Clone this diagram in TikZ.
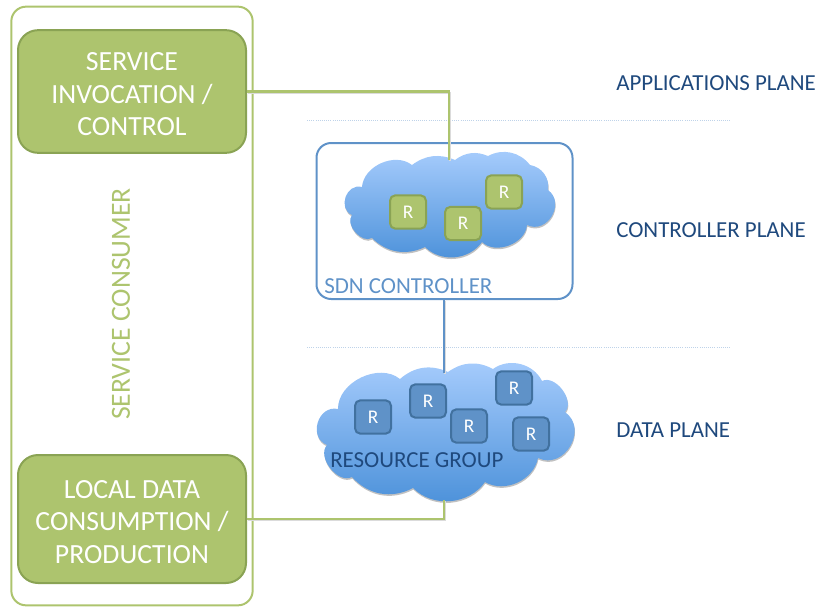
\documentclass[tikz,border=0pt]{standalone}
\usepackage{fontspec}
\setmainfont{Carlito}
\usetikzlibrary{shadows}
\definecolor{leaf}{HTML}{ADC46E}
\definecolor{leafdark}{HTML}{8AA354}
\definecolor{sky}{HTML}{5F92C8}
\definecolor{skydark}{HTML}{41719F}
\definecolor{navy}{HTML}{1F497D}
\definecolor{cloudtop}{HTML}{A8CDFD}
\definecolor{cloudbottom}{HTML}{4A90D9}
\newcommand\lift{\rule{0pt}{18pt}}
\tikzset{
  pane/.style={draw=#1,line width=1.5pt,rounded corners=11pt},
  task/.style={draw=leafdark,fill=leaf,line width=1.5pt,rounded corners=15pt,text=white,
    minimum width=171pt,align=center,font=\fontsize{20.8}{24.4}\selectfont,inner sep=0pt},
  res/.style={draw=#1,line width=1.5pt,rounded corners=4pt,minimum width=27pt,minimum height=25pt,
    inner sep=0pt,text=white,font=\fontsize{14.5}{16}\selectfont},
  planelabel/.style={text=navy,anchor=west,inner sep=0pt,font=\fontsize{17.2}{20}\selectfont},
  divider/.style={draw=sky!40,densely dotted,line width=.6pt},
  puff/.style={bend left=#1},
  lobe/.style={bend left=85,looseness=1.4},
  cloudbody/.style={top color=cloudtop,bottom color=cloudbottom,
    drop shadow={shadow xshift=.3pt,shadow yshift=-1.2pt,opacity=.35,fill=black!70}},
  wire/.style={draw=#1,line width=1.6pt,preaction={draw=black!14,line width=1.6pt,
    transform canvas={xshift=.5pt,yshift=-1pt}}},
}

\begin{document}
\begin{tikzpicture}[x=0.75pt,y=-0.75pt]
    \useasboundingbox (0,0) rectangle (819,607);

    \node (consumer) at (132,306) [pane=leaf,minimum width=181pt,minimum height=449pt] {};
    \node (invoke) at (132,91.5) [task,minimum height=92pt] {\lift SERVICE\\INVOCATION /\\CONTROL};
    \node (local) at (132,519) [task,minimum height=96pt] {\lift LOCAL DATA\\CONSUMPTION /\\PRODUCTION};
    \node (consumerlabel) at (121,304) [rotate=90,text=leaf,font=\fontsize{20.8}{22}\selectfont] {SERVICE CONSUMER};

    \node (apps) at (616,83) [planelabel] {APPLICATIONS PLANE};
    \node (ctrl) at (616,230) [planelabel] {CONTROLLER PLANE};
    \node (data) at (616,430) [planelabel] {DATA PLANE};
    \coordinate (d1a) at (307,120);
    \coordinate (d1b) at (731,120);
    \coordinate (d2a) at (307,347);
    \coordinate (d2b) at (731,347);
    \draw[divider] (d1a) to (d1b) (d2a) to (d2b);

    \node (sdn) at (444.5,221) [pane=sky,minimum width=192pt,minimum height=117pt] {};
    \node (sdnlabel) at (324,286) [text=sky,anchor=west,inner sep=0pt,font=\fontsize{17.2}{20}\selectfont] {SDN CONTROLLER};

    % upper cloud
    \path[cloudbody] (362,187) to[puff=62] (412,165) to[puff=30] (455,160)
      to[puff=30] (488,156) to[puff=40] (530,165) to[puff=45] (548,190) to[lobe] (527,225)
      to[puff=65] (482,242) to[puff=50] (425,247) to[puff=35] (372,238) to[puff=80] (352,215)
      to[lobe] (362,187) -- cycle;
    \node (c1) at (408,212) [res=leafdark,fill=leaf] {R};
    \node (c2) at (463,223.5) [res=leafdark,fill=leaf] {R};
    \node (c3) at (504,192) [res=leafdark,fill=leaf] {R};

    % lower cloud
    \path[cloudbody] (338,409) to[puff=65] (400,379) to[puff=33] (448,372)
      to[puff=32] (493,369) to[puff=50] (542,381) to[puff=80] (565,412)
      to[lobe] (538,458) to[puff=55] (485,482) to[puff=50] (413,488)
      to[puff=38] (352,477) to[puff=80] (327,445) to[lobe] (338,409) -- cycle;
    \node (r1) at (373,417) [res=skydark,fill=sky] {R};
    \node (r2) at (428,401) [res=skydark,fill=sky] {R};
    \node (r3) at (469,426) [res=skydark,fill=sky] {R};
    \node (r4) at (514,388) [res=skydark,fill=sky] {R};
    \node (r5) at (531,434) [res=skydark,fill=sky] {R};
    \node (grouplabel) at (330,460) [text=navy,anchor=west,inner sep=0pt,font=\fontsize{17.2}{20}\selectfont] {RESOURCE GROUP};

    \coordinate (ctop) at (449,160);
    \coordinate (rtop) at (444,373);
    \coordinate (rbot) at (444,500);
    \draw[wire=leaf] (invoke.east) -| (ctop);
    \draw[wire=sky] (sdn.south -| rtop) to (rtop);
    \draw[wire=leaf] (local.east) -| (rbot);
  \end{tikzpicture}
\end{document}
